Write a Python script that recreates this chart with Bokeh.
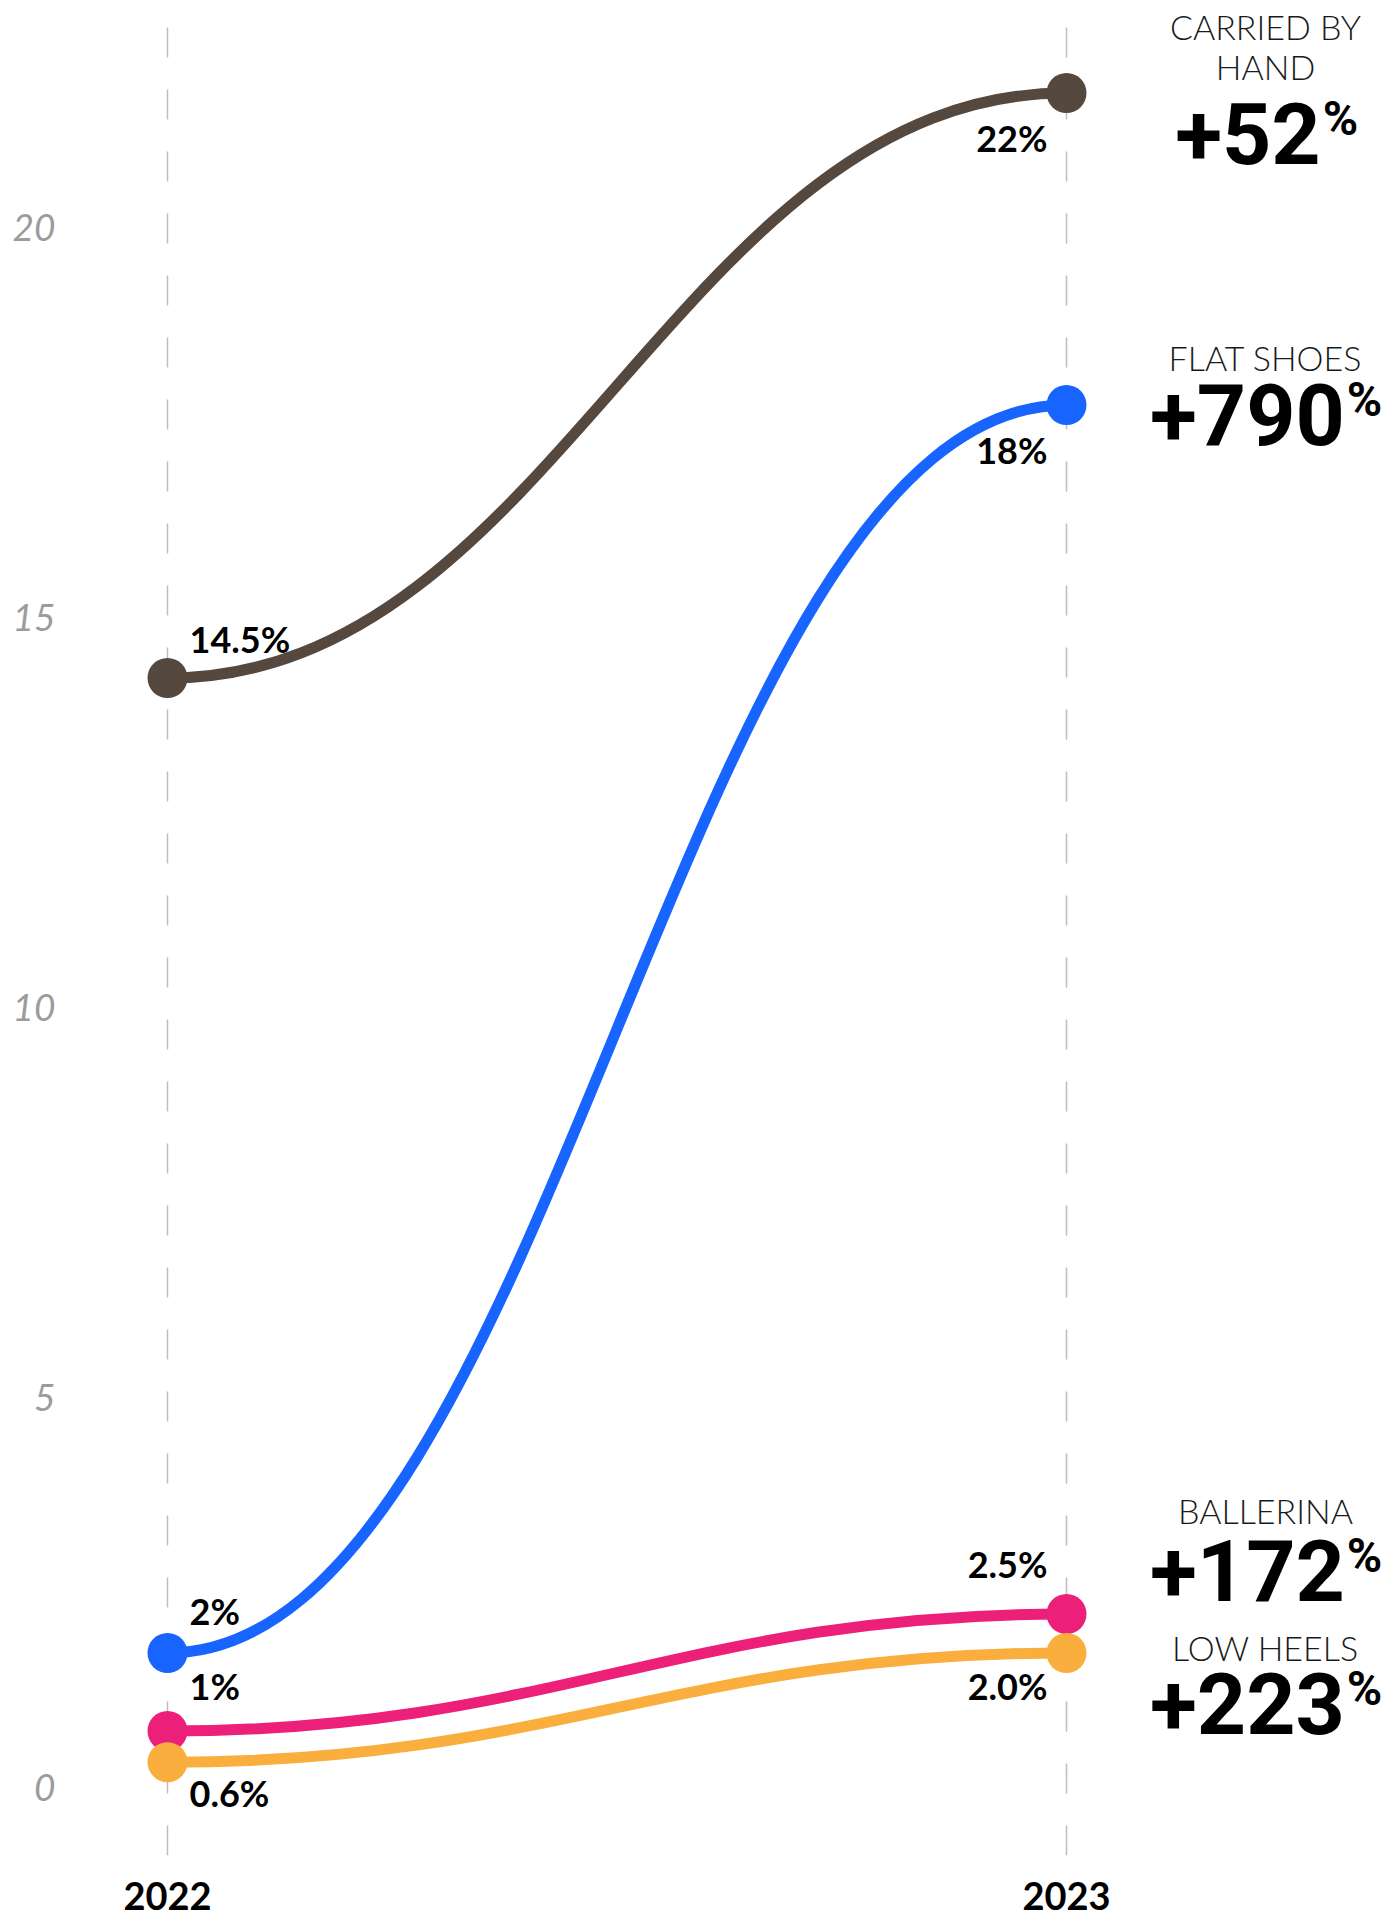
from bokeh.plotting import figure
from bokeh.models import ColumnDataSource, FixedTicker, Range1d
from bokeh.core.properties import value
from bokeh.embed import file_html
from bokeh.resources import INLINE

# ---- data -------------------------------------------------------------
years = [2022, 2023]
categories = ["CARRIED BY\nHAND", "FLAT SHOES", "BALLERINA", "LOW HEELS"]
share_2022 = [14.5, 2.0, 1.0, 0.6]
share_2023 = [22.0, 18.0, 2.5, 2.0]
labels_2022 = ["14.5%", "2%", "1%", "0.6%"]
labels_2023 = ["22%", "18%", "2.5%", "2.0%"]
growth = ["+52", "+790", "+172", "+223"]
y_ticks = [0, 5, 10, 15, 20]

# ---- styling ----------------------------------------------------------
colors = ["#54483f", "#1764ff", "#ed2079", "#f9ae3d"]
W, H = 1389, 1917
BOTTOM = 62
PX_PER_YEAR = 899.0
PX_PER_UNIT = 78.0
X0_PX = 167.0          # screen x of the first year
ZERO_PX = 1808.5       # screen y of value 0

frame_h = H - BOTTOM
x_start = years[0] - X0_PX / PX_PER_YEAR
x_end = x_start + W / PX_PER_YEAR
y_end = ZERO_PX / PX_PER_UNIT
y_start = y_end - frame_h / PX_PER_UNIT

LABEL_FONT = value("Lato")
LIGHT_FONT = value("Lato Light")
BIG_FONT = value("Roboto")

p = figure(width=W, height=H, output_backend="svg", toolbar_location=None,
           x_range=Range1d(x_start, x_end), y_range=Range1d(y_start, y_end),
           min_border_left=0, min_border_right=0, min_border_top=0,
           min_border_bottom=BOTTOM)
p.outline_line_color = None
p.background_fill_color = "white"
p.border_fill_color = "white"
p.yaxis.visible = False

# dashed verticals at each year
p.xgrid.ticker = FixedTicker(ticks=years)
p.xgrid.grid_line_color = "#bdbdbd"
p.xgrid.grid_line_width = 1.5
p.xgrid.grid_line_dash = "30 32"
p.ygrid.grid_line_color = None

# x axis: year labels
p.xaxis.ticker = FixedTicker(ticks=years)
p.xaxis.major_label_overrides = {y: str(y) for y in years}
p.xaxis.axis_line_color = None
p.xaxis.major_tick_line_color = None
p.xaxis.minor_tick_line_color = None
p.xaxis.major_label_text_font = "Lato"
p.xaxis.major_label_text_font_style = "bold"
p.xaxis.major_label_text_font_size = "38px"
p.xaxis.major_label_text_color = "black"
p.xaxis.major_label_standoff = 20

# value scale labels, grey italics at the far left
tick_src = ColumnDataSource(dict(x=[years[0]] * len(y_ticks), y=y_ticks,
                                 text=[str(t) for t in y_ticks]))
p.text("x", "y", text="text", source=tick_src, x_offset=-112, y_offset=-22,
       text_align="right", text_baseline="middle", text_font=LABEL_FONT,
       text_font_style="italic", text_font_size="37px", text_color="#9c9c9c")

# ---- curves between the two years ---------------------------------------
c = 0.43
curves = ColumnDataSource(dict(
    x0=[years[0]] * 4, x1=[years[1]] * 4,
    y0=share_2022, y1=share_2023,
    cx0=[years[0] + c] * 4, cx1=[years[1] - c] * 4,
    cy0=share_2022, cy1=share_2023, color=colors))
p.bezier(x0="x0", y0="y0", x1="x1", y1="y1", cx0="cx0", cy0="cy0",
         cx1="cx1", cy1="cy1", line_color="color", line_width=11,
         line_cap="round", source=curves)

dots = ColumnDataSource(dict(
    x=[years[0]] * 4 + [years[1]] * 4,
    y=share_2022 + share_2023,
    color=colors + colors))
p.scatter("x", "y", size=40, fill_color="color", line_color=None, source=dots)

# ---- value labels at each end -----------------------------------------
start_lbl = ColumnDataSource(dict(
    x=[years[0]] * 4, y=share_2022, text=labels_2022,
    dy=[-39, -42, -45, 31]))
p.text("x", "y", text="text", source=start_lbl, x_offset=22, y_offset="dy",
       text_align="left", text_baseline="middle", text_font=LABEL_FONT,
       text_font_style="bold", text_font_size="36px", text_color="black")

end_lbl = ColumnDataSource(dict(
    x=[years[1]] * 4, y=share_2023, text=labels_2023,
    dy=[45, 45, -50, 33]))
p.text("x", "y", text="text", source=end_lbl, x_offset=-19, y_offset="dy",
       text_align="right", text_baseline="middle", text_font=LABEL_FONT,
       text_font_style="bold", text_font_size="36px", text_color="black")

# ---- category names and growth on the right -----------------------------
side_x = 199          # px right of the 2023 line
name_src = ColumnDataSource(dict(
    x=[years[1]] * 4, y=share_2023, text=categories,
    dy=[-46.5, -47.5, -103.5, -5.5]))
p.text("x", "y", text="text", source=name_src, x_offset=side_x, y_offset="dy",
       text_align="center", text_baseline="middle", text_font=LIGHT_FONT,
       text_font_size="34px", text_color="#1a1a1a", text_line_height=0.96)

# growth numbers with a raised, smaller percent sign
BIG, SMALL = 86, 48
digit_w, plus_w, pct_w = 0.562, 0.567, 0.73


def num_width(s):
    return sum(plus_w if ch == "+" else digit_w for ch in s) * BIG


splits = []
for g in growth:
    nw = num_width(g)
    total = nw + pct_w * SMALL
    splits.append(side_x - total / 2 + nw)

pct_dy = [40.5, 9.5, -43.5, 50.5]
grow_src = ColumnDataSource(dict(
    x=[years[1]] * 4, y=share_2023, text=growth,
    dx=splits, dy=pct_dy,
    pdx=[s + 2 for s in splits], pdy=[d - 15 for d in pct_dy],
    ptext=["%"] * 4))
p.text("x", "y", text="text", source=grow_src, x_offset="dx", y_offset="dy",
       text_align="right", text_baseline="middle", text_font=BIG_FONT,
       text_font_style="bold", text_font_size=f"{BIG}px", text_color="black")
p.text("x", "y", text="ptext", source=grow_src, x_offset="pdx", y_offset="pdy",
       text_align="left", text_baseline="middle", text_font=BIG_FONT,
       text_font_style="bold", text_font_size=f"{SMALL}px", text_color="black")

open("out.html", "w").write(file_html(p, INLINE))
